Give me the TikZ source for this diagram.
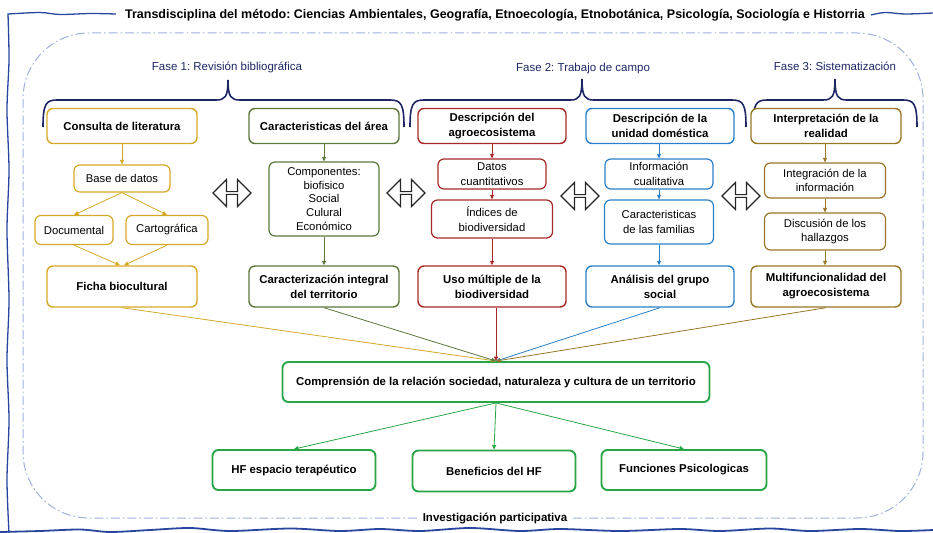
\documentclass[tikz,border=0pt]{standalone}
\usepackage{fontspec}
\setmainfont{Liberation Sans}
\usetikzlibrary{arrows.meta,shapes.arrows}
\definecolor{cgold}{RGB}{214,168,40}
\definecolor{colive}{RGB}{92,120,58}
\definecolor{cred}{RGB}{168,40,40}
\definecolor{cblue}{RGB}{42,128,200}
\definecolor{cbrown}{RGB}{152,118,38}
\definecolor{cgreen}{RGB}{40,165,70}
\definecolor{cnavy}{RGB}{28,38,100}
\definecolor{cframe}{RGB}{40,70,160}
\definecolor{cdash}{RGB}{160,176,220}
\frenchspacing
\tikzset{
  box/.style={draw, rounded corners=6pt, line width=1.2pt, align=center, inner sep=2pt, fill=white,
    font=\fontsize{11.3}{14.5}\selectfont},
  mainbox/.style={box, line width=1.4pt, font=\bfseries\fontsize{11.4}{15}\selectfont, minimum width=150pt},
  greenbox/.style={mainbox, draw=cgreen, line width=1.9pt},
  ar/.style={-{Triangle[length=4.5pt,width=4pt]}, line width=0.8pt},
  brace/.style={draw=cnavy, line width=1.6pt},
  fase/.style={text=cnavy, font=\fontsize{11.5}{12}\selectfont},
  dbl/.style={double arrow, draw=black!85, line width=1.1pt, fill=white, minimum height=38pt,
    minimum width=27pt, double arrow head extend=5pt, inner sep=0pt},
  dashframe/.style={draw=cdash, line width=1pt, dash pattern=on 9pt off 3pt on 1.5pt off 3pt},
}
\begin{document}
\begin{tikzpicture}[x=1pt,y=-1pt]
\useasboundingbox (0,0) rectangle (933,532);
% outer hand-drawn frame
\draw[cframe, line width=1.3pt] plot[smooth] coordinates {(116,14) (90,13.5) (60,14.5) (40,12.5) (8,14)}
  -- plot[smooth] coordinates {(8,14) (9,60) (7,110) (9,170) (7,230) (9,300) (7,360) (9,420) (7,480) (9,533)};
\draw[cframe, line width=1.3pt] plot[smooth] coordinates {(871,15) (885,12.5) (905,14) (933,13)};
\draw[cframe, line width=1.8pt] plot[smooth] coordinates {(0,532) (40,531) (80,529.5) (110,532) (150,530) (190,528) (230,531) (290,528.5) (340,531) (380,529) (420,531) (470,528) (520,531) (560,529) (620,531) (680,529) (720,531) (770,528.5) (810,531) (860,529) (900,531) (933,530)};
% dash-dot rounded frame
\draw[dashframe, rounded corners=66pt] (23,33) rectangle (923,518);
% title and bottom label
\node[font=\bfseries\fontsize{12.5}{13}\selectfont, inner sep=1pt] (title) at (495,15)
  {Transdisciplina del método: Ciencias Ambientales, Geografía, Etnoecología, Etnobotánica, Psicología, Sociología e Historria};
\node[fill=white, font=\bfseries\fontsize{11.5}{12}\selectfont, inner xsep=5pt] (inv) at (495,518) {Investigación participativa};
% phases
\node[fase] (f1) at (227,67) {Fase 1: Revisión bibliográfica};
\node[fase] (f2) at (583,69) {Fase 2: Trabajo de campo};
\node[fase] (f3) at (835,66) {Fase 3: Sistematización};
\draw[brace] (43,127) .. controls (43,104) and (46,100) .. (57,100) -- (216,100)
  .. controls (225,100) and (228,97) .. (228,80) .. controls (228,97) and (231,100) .. (240,100)
  -- (390,100) .. controls (401,100) and (404,104) .. (404,127);
\draw[brace] (410,127) .. controls (410,104) and (413,100) .. (424,100) -- (570,100)
  .. controls (579,100) and (582,97) .. (582,79) .. controls (582,97) and (585,100) .. (594,100)
  -- (732,100) .. controls (743,100) and (746,104) .. (746,127);
\draw[brace] (753,127) .. controls (753,104) and (756,100) .. (767,100) -- (823,100)
  .. controls (832,100) and (835,97) .. (835,79) .. controls (835,97) and (838,100) .. (847,100)
  -- (903,100) .. controls (914,100) and (917,104) .. (917,127);
% column 1 (gold)
\node[mainbox, draw=cgold, minimum height=35pt] (cl) at (122,126) {Consulta de literatura};
\node[box, draw=cgold, minimum width=96pt, minimum height=27pt] (bd) at (122,178.5) {Base de datos};
\node[box, draw=cgold, minimum width=78pt, minimum height=29pt] (doc) at (74,230) {Documental};
\node[box, draw=cgold, minimum width=82pt, minimum height=29pt] (car) at (167,230) {Cartográfica};
\node[mainbox, draw=cgold, minimum height=41pt] (fb) at (122,286.5) {Ficha biocultural};
\draw[ar, cgold] (cl) -- (bd);
\draw[ar, cgold] (bd.south) -- (doc.north);
\draw[ar, cgold] (bd.south) -- (car.north);
\draw[ar, cgold] (doc.south) -- ([xshift=-2pt]fb.north);
\draw[ar, cgold] (car.south) -- ([xshift=2pt]fb.north);
% column 2 (olive)
\node[mainbox, draw=colive, minimum height=35pt] (ca) at (324,126) {Caracteristicas del área};
\node[box, draw=colive, minimum width=110pt, minimum height=74pt, font=\fontsize{11.3}{13.6}\selectfont] (comp) at (324,199)
  {Componentes:\\biofisico\\Social\\Culural\\Económico};
\node[mainbox, draw=colive, minimum height=41pt] (cit) at (324,286.5) {Caracterización integral\\del territorio};
\draw[ar, colive] (ca) -- (comp);
\draw[ar, colive] (comp) -- (cit);
% column 3 (red)
\node[mainbox, draw=cred, minimum width=148pt, minimum height=35pt] (da) at (492,126) {Descripción del\\agroecosistema};
\node[box, draw=cred, minimum width=108pt, minimum height=30pt] (dc) at (492,174) {Datos\\cuantitativos};
\node[box, draw=cred, minimum width=121pt, minimum height=38pt] (ib) at (492,219) {Índices de\\biodiversidad};
\node[mainbox, draw=cred, minimum width=148pt, minimum height=41pt] (um) at (492,286.5) {Uso múltiple de la\\biodiversidad};
\draw[ar, cred] (da) -- (dc);
\draw[ar, cred] (dc) -- (ib);
\draw[ar, cred] (ib) -- (um);
% column 4 (blue)
\node[mainbox, draw=cblue, minimum width=148pt, minimum height=35pt] (du) at (660,126) {Descripción de la\\unidad doméstica};
\node[box, draw=cblue, minimum width=108pt, minimum height=30pt] (ic) at (659,174) {Información\\cualitativa};
\node[box, draw=cblue, minimum width=109pt, minimum height=44pt] (cf) at (659,222) {Caracteristicas\\de las familias};
\node[mainbox, draw=cblue, minimum width=148pt, minimum height=41pt] (ag) at (660,286.5) {Análisis del grupo\\social};
\draw[ar, cblue] (du.south -| ic) -- (ic);
\draw[ar, cblue] (ic) -- (cf);
\draw[ar, cblue] (cf) -- (cf |- ag.north);
% column 5 (brown)
\node[mainbox, draw=cbrown, minimum height=35pt] (ir) at (826,126) {Interpretación de la\\realidad};
\node[box, draw=cbrown, minimum width=121pt, minimum height=35pt] (ii) at (825,180.5) {Integración de la\\información};
\node[box, draw=cbrown, minimum width=121pt, minimum height=37pt] (dh) at (825,231.5) {Discusión de los\\hallazgos};
\node[mainbox, draw=cbrown, minimum height=41pt] (mf) at (826,286.5) {Multifuncionalidad del\\agroecosistema};
\draw[ar, cbrown] (ir.south -| ii) -- (ii);
\draw[ar, cbrown] (ii) -- (dh);
\draw[ar, cbrown] (dh) -- (dh |- mf.north);
% double arrows
\node[dbl] (x1) at (232,193) {};
\node[dbl] (x2) at (406,193) {};
\node[dbl] (x3) at (580,196) {};
\node[dbl] (x4) at (741,196) {};
% central
\node[greenbox, minimum width=427pt, minimum height=40pt] (cr) at (496,382)
  {Comprensión de la relación sociedad, naturaleza y cultura de un territorio};
\draw[ar, cgold] (fb.south) -- (cr.north);
\draw[ar, colive] (cit.south) -- (cr.north);
\draw[ar, cblue] (ag.south) -- (cr.north);
\draw[ar, cbrown] (mf.south) -- (cr.north);
\draw[ar, cred] (um.south -| cr.north) -- (cr.north);
% bottom row
\node[greenbox, minimum width=163pt, minimum height=40pt] (hf) at (294,470) {HF espacio terapéutico};
\node[greenbox, minimum width=163pt, minimum height=41pt] (bh) at (494,471) {Beneficios del HF};
\node[greenbox, minimum width=165pt, minimum height=40pt] (fp) at (684,470) {Funciones Psicologicas};
\draw[ar, cgreen] (cr.south) -- (hf.north);
\draw[ar, cgreen] (cr.south) -- (bh.north);
\draw[ar, cgreen] (cr.south) -- (fp.north);
\end{tikzpicture}
\end{document}
